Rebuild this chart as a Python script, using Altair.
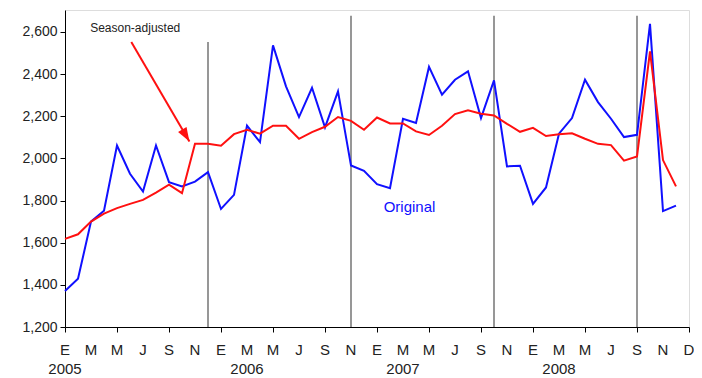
import altair as alt
import pandas as pd

# ---- data (monthly, Jan 2005 .. Dec 2008) ----
original = [1371, 1429, 1700, 1752, 2061, 1927, 1843, 2061, 1887, 1867, 1890, 1935,
            1760, 1827, 2155, 2077, 2536, 2342, 2196, 2335, 2147, 2318, 1966, 1941,
            1878, 1859, 2188, 2168, 2434, 2302, 2373, 2413, 2191, 2370, 1962, 1965,
            1784, 1862, 2117, 2191, 2373, 2267, 2188, 2101, 2112, 2638, 1750, 1776]
adjusted = [1618, 1640, 1700, 1738, 1764, 1784, 1803, 1838, 1875, 1835, 2069, 2069,
            2060, 2115, 2136, 2117, 2155, 2155, 2093, 2125, 2150, 2196, 2178, 2136,
            2194, 2166, 2166, 2128, 2111, 2155, 2210, 2228, 2212, 2204, 2164, 2126,
            2145, 2106, 2114, 2119, 2093, 2069, 2063, 1989, 2009, 2508, 1992, 1867]

# x-axis tick labels (one every two months, plus the closing "D")
tick_labels = ["E", "M", "M", "J", "S", "N"] * 4 + ["D"]
tick_label_pos = list(range(0, 49, 2))
years = ["2005", "2006", "2007", "2008"]
year_pos = [0, 14, 26, 38]

vline_pos = [11, 22, 33, 44]
vline_top = [2552, 2677, 2677, 2677]

y_ticks = [1200, 1400, 1600, 1800, 2000, 2200, 2400, 2600]

# annotations (data units)
arrow_from = (5.1, 2552)
arrow_to = (9.57, 2080)
label_sa = ("Season-adjusted", 5.4, 2620)
label_orig = ("Original", 26.5, 1770)

# ---- frames ----
n = len(original)
df = pd.DataFrame({
    "month": list(range(n)) * 2,
    "value": original + adjusted,
    "series": ["Original"] * n + ["Season-adjusted"] * n,
})
df_v = pd.DataFrame({"month": vline_pos, "top": vline_top})
df_arrow = pd.DataFrame({"x": [arrow_from[0]], "y": [arrow_from[1]],
                         "x2": [arrow_to[0]], "y2": [arrow_to[1]]})
df_head = pd.DataFrame({"x": [arrow_to[0]], "y": [arrow_to[1]]})
df_years = pd.DataFrame({"month": year_pos, "year": years})
df_ticks = pd.DataFrame({"month": tick_label_pos, "lab": tick_labels})
df_sa = pd.DataFrame({"t": [label_sa[0]], "x": [label_sa[1]], "y": [label_sa[2]]})
df_or = pd.DataFrame({"t": [label_orig[0]], "x": [label_orig[1]], "y": [label_orig[2]]})

xscale = alt.Scale(domain=[0, 48], nice=False, zero=False)
yscale = alt.Scale(domain=[1200, 2704], nice=False, zero=False)

x_axis = alt.Axis(values=list(range(49)), labels=False, title=None,
                  grid=False, tickSize=5,
                  domainColor="#000000", tickColor="#000000")
y_axis = alt.Axis(values=y_ticks, format=",.0f", title=None, grid=False,
                  tickSize=5, labelPadding=3, labelFontSize=14,
                  labelColor="#222222", domainColor="#000000",
                  tickColor="#000000")

rules = alt.Chart(df_v).mark_rule(color="#8c8c8c", strokeWidth=1.8).encode(
    x=alt.X("month:Q", scale=xscale, axis=x_axis),
    y=alt.Y("top:Q", scale=yscale, axis=y_axis),
    y2=alt.datum(1200),
)

lines = alt.Chart(df).mark_line(strokeWidth=2).encode(
    x=alt.X("month:Q", scale=xscale, axis=x_axis),
    y=alt.Y("value:Q", scale=yscale, axis=y_axis),
    color=alt.Color("series:N",
                    scale=alt.Scale(domain=["Original", "Season-adjusted"],
                                    range=["#1010ff", "#ff1010"]),
                    legend=None),
)

arrow = alt.Chart(df_arrow).mark_rule(color="#ff1010", strokeWidth=2).encode(
    x=alt.X("x:Q", scale=xscale), y=alt.Y("y:Q", scale=yscale),
    x2="x2:Q", y2="y2:Q",
)

head = alt.Chart(df_head).mark_point(
    shape="M0,0 L-0.7,2 L0.7,2 Z", filled=True, color="#ff1010",
    opacity=1, size=196, angle=149.5, strokeWidth=0,
).encode(x=alt.X("x:Q", scale=xscale), y=alt.Y("y:Q", scale=yscale))

txt_sa = alt.Chart(df_sa).mark_text(fontSize=12, color="#222222",
                                   font="Liberation Sans").encode(
    x=alt.X("x:Q", scale=xscale), y=alt.Y("y:Q", scale=yscale), text="t:N")

txt_or = alt.Chart(df_or).mark_text(fontSize=15, color="#1010ff",
                                   font="Liberation Sans").encode(
    x=alt.X("x:Q", scale=xscale), y=alt.Y("y:Q", scale=yscale), text="t:N")

month_txt = alt.Chart(df_ticks).mark_text(fontSize=15, color="#222222",
                                         baseline="middle",
                                         font="Liberation Sans").encode(
    x=alt.X("month:Q", scale=xscale), y=alt.value(340), text="lab:N")

years_txt = alt.Chart(df_years).mark_text(fontSize=15, color="#222222",
                                         baseline="middle",
                                         font="Liberation Sans").encode(
    x=alt.X("month:Q", scale=xscale), y=alt.value(359), text="year:N")

chart = alt.layer(rules, lines, arrow, head, txt_sa, txt_or, month_txt,
                  years_txt).properties(
    width=624, height=317,
    autosize=alt.AutoSizeParams(type="none"),
    padding={"left": 57, "top": 2, "right": 5, "bottom": 50},
    background="white",
).configure_view(stroke=None).configure(font="Liberation Sans")

chart.save("out.html", embed_options={"renderer": "svg", "actions": False})
